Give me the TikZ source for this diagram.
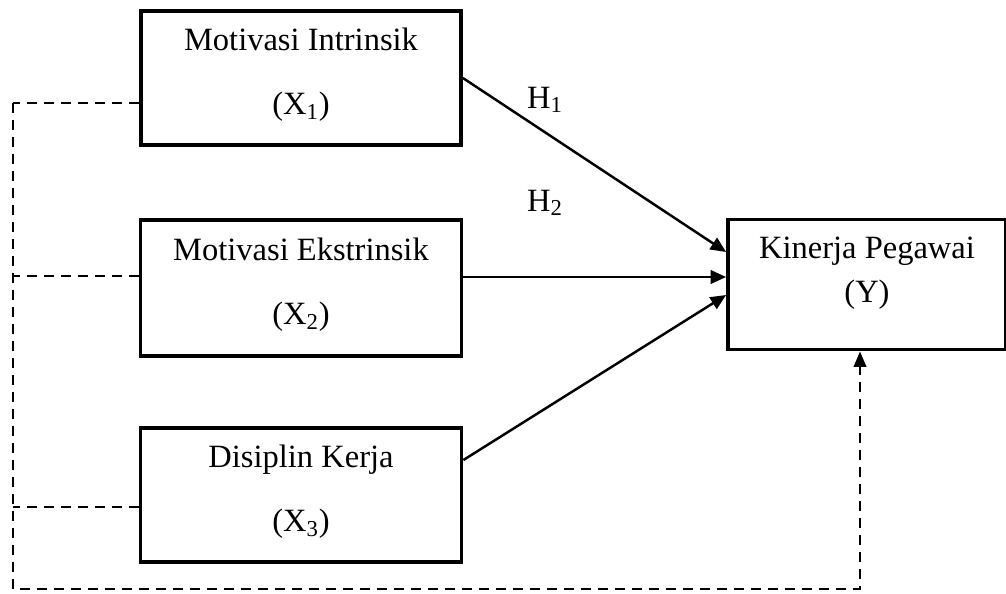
\documentclass[tikz,border=0pt]{standalone}
\usepackage{fontspec}
\setmainfont{Liberation Serif}
\usetikzlibrary{arrows.meta,calc}
\tikzset{%
  varbox/.style  = {shape=rectangle, draw, line width=2.2pt,%
                    align=center, inner sep=0pt},%
  dashline/.style = {line width=1.3pt, dash pattern=on 0.2cm off 0.14cm},%
  effect/.style  = {line width=1.4pt,%
                    -{Triangle[length=0.31cm,width=0.27cm]}}%
}

\begin{document}
\begin{tikzpicture}[x=0.02cm, y=-0.02cm,
	every node/.style={font=\fontsize{18.5}{22}\selectfont}]
	\useasboundingbox (0,0) rectangle (1006,593);
	% independent variables
	\node [varbox, minimum width=6.4cm, minimum height=2.68cm] (x1) at (301,78)
		{Motivasi Intrinsik\\[0.51cm](X\textsubscript{1})\\[-0.5cm]};
	\node [varbox, minimum width=6.42cm, minimum height=2.72cm] (x2) at (301,288)
		{Motivasi Ekstrinsik\\[0.51cm](X\textsubscript{2})\\[-0.5cm]};
	\node [varbox, minimum width=6.42cm, minimum height=2.68cm] (x3) at (301,495)
		{Disiplin Kerja\\[0.51cm](X\textsubscript{3})\\[-0.5cm]};
	% dependent variable
	\node [varbox, minimum width=5.56cm, minimum height=2.6cm] (y) at (867,284.5)
		{Kinerja Pegawai\\[0.1cm](Y)\\[-0.18cm]};
	% hypotheses
	\node (h1) at (545,100) {H\textsubscript{1}};
	\node (h2) at (545,203) {H\textsubscript{2}};
	\coordinate (t1) at ([yshift=0.65cm]y.west);
	\coordinate (t2) at ([yshift=0.15cm]y.west);
	\coordinate (t3) at ([yshift=-0.21cm]y.west);
	\draw [effect] (x1.east) -- (t1);
	\draw [effect] (x2.east |- t2) -- (t2);
	\draw [effect] ([yshift=0.7cm]x3.east) -- (t3);
	% simultaneous effect
	\coordinate (d1) at (13,103);
	\coordinate (d2) at (13,276);
	\coordinate (d3) at (13,507);
	\coordinate (d4) at (13,589);
	\coordinate (c4) at (860,589);
	\draw [dashline] (x1.west |- d1) -- (d1);
	\draw [dashline] (x2.west |- d2) -- (d2);
	\draw [dashline] (x3.west |- d3) -- (d3);
	\draw [dashline, -{Triangle[length=0.31cm,width=0.25cm]}]
		(d1) -- (d4) -- (c4) -- (c4 |- y.south);
\end{tikzpicture}
\end{document}
